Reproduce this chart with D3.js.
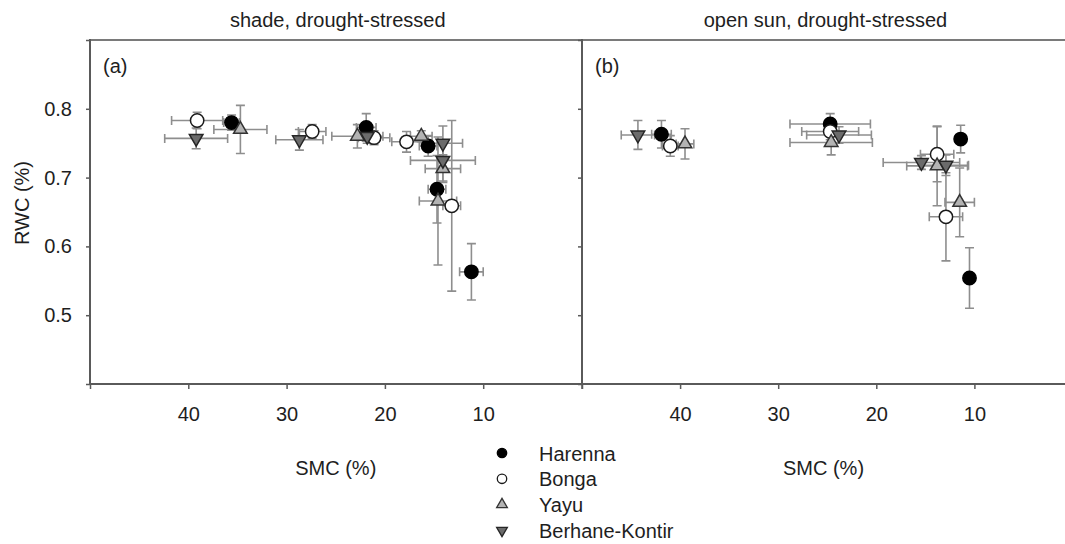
<!DOCTYPE html>
<html>
<head>
<meta charset="utf-8">
<script src="https://cdn.jsdelivr.net/npm/d3@7"></script>
<style>
  html, body { margin: 0; padding: 0; background: #fff; }
  svg { display: block; }
  text { font-family: "Liberation Sans", Arial, sans-serif; fill: #1e1e1e; }
</style>
</head>
<body>
<svg id="chart" width="1065" height="544"></svg>
<script>
// Sites (legend order) and SMC axis ticks
const sites = ["Harenna", "Bonga", "Yayu", "Berhane-Kontir"];
const smcTicks = [50, 40, 30, 20, 10, 0];
const smcTickLabels = ["", "40", "30", "20", "10", ""];
const rwcTicks = [0.4, 0.5, 0.6, 0.7, 0.8, 0.9];
const rwcTickLabels = ["", "0.5", "0.6", "0.7", "0.8", ""];

// Each row: [SMC mean, SMC error, RWC mean, RWC error]
// Shade, drought-stressed
const shadeHarenna = [[35.6, 0.8, 0.780, 0.011], [21.9, 1.0, 0.773, 0.020], [15.6, 0.9, 0.746, 0.015], [14.7, 0.9, 0.683, 0.049], [11.2, 1.2, 0.563, 0.041]];
const shadeBonga   = [[39.1, 2.6, 0.783, 0.012], [27.4, 1.4, 0.767, 0.010], [21.1, 1.6, 0.758, 0.010], [17.8, 1.5, 0.752, 0.015], [13.2, 0.9, 0.659, 0.124]];
const shadeYayu    = [[34.7, 2.7, 0.770, 0.035], [22.8, 2.6, 0.760, 0.017], [16.3, 1.1, 0.760, 0.008], [14.1, 1.8, 0.713, 0.020], [14.6, 1.9, 0.666, 0.093]];
const shadeBerhane = [[39.2, 3.2, 0.757, 0.015], [28.7, 2.4, 0.755, 0.015], [21.8, 1.0, 0.760, 0.010], [14.1, 2.0, 0.750, 0.025], [14.1, 3.3, 0.725, 0.030]];
// Open sun, drought-stressed
const sunHarenna = [[41.9, 1.0, 0.763, 0.020], [24.7, 4.1, 0.778, 0.015], [11.4, 0.5, 0.756, 0.020], [10.5, 0.3, 0.554, 0.044]];
const sunBonga   = [[41.0, 0.8, 0.746, 0.015], [24.7, 2.9, 0.767, 0.012], [13.8, 1.7, 0.734, 0.040], [12.9, 1.7, 0.643, 0.064]];
const sunYayu    = [[39.5, 0.9, 0.749, 0.022], [24.6, 4.2, 0.751, 0.018], [13.8, 3.1, 0.717, 0.058], [11.5, 1.5, 0.664, 0.050]];
const sunBerhane = [[44.3, 1.7, 0.762, 0.021], [23.8, 3.3, 0.762, 0.012], [15.4, 3.9, 0.722, 0.010], [12.9, 2.3, 0.718, 0.015]];

const panels = [
  { title: "shade, drought-stressed", tag: "(a)", x0: 90, x1: 581.5,
    data: [shadeHarenna, shadeBonga, shadeYayu, shadeBerhane] },
  { title: "open sun, drought-stressed", tag: "(b)", x0: 582, x1: 1072.5,
    data: [sunHarenna, sunBonga, sunYayu, sunBerhane] }
];

// marker styles per site
const markerStyle = [
  { type: d3.symbolCircle,   size: 140, fill: "#000000", stroke: "#000000", rot: 0 },
  { type: d3.symbolCircle,   size: 140, fill: "#ffffff", stroke: "#1a1a1a", rot: 0 },
  { type: d3.symbolTriangle, size: 80,  fill: "#b3b3b3", stroke: "#333333", rot: 0 },
  { type: d3.symbolTriangle, size: 80,  fill: "#6b6b6b", stroke: "#262626", rot: 180 }
];

const svg = d3.select("#chart");
const yTop = 40, yBottom = 384;
const W = 1065;
const axisColor = "#5a5a5a";
const errColor = "#8e8e8e";
const cap = 4.5;

const y = d3.scaleLinear().domain([0.4, 0.9]).range([yBottom, yTop]);

// top frame line across both panels
svg.append("line").attr("x1", 89).attr("x2", W).attr("y1", yTop).attr("y2", yTop)
  .attr("stroke", "#7a7a7a").attr("stroke-width", 2);

panels.forEach((p, pi) => {
  const x = d3.scaleLinear().domain([50, 0]).range([p.x0, p.x1]);
  const g = svg.append("g");

  // bottom axis
  const xAxis = d3.axisBottom(x).tickValues(smcTicks)
    .tickFormat((d, i) => smcTickLabels[i]).tickSize(5).tickSizeOuter(0).tickPadding(17.5);
  const gx = g.append("g").attr("transform", `translate(0,${yBottom})`).call(xAxis);
  gx.select(".domain").attr("stroke", axisColor).attr("stroke-width", 2)
    .attr("d", `M${p.x0 - 1},0H${Math.min(p.x1, W)}`);
  gx.selectAll(".tick line").attr("stroke", axisColor).attr("stroke-width", 1.5);
  gx.selectAll(".tick text").style("font-size", "20px").attr("fill", "#1e1e1e")
    .style("font-family", '"Liberation Sans", Arial, sans-serif');

  // left axis
  const yAxis = d3.axisLeft(y).tickValues(rwcTicks)
    .tickFormat((d, i) => pi === 0 ? rwcTickLabels[i] : "").tickSize(4).tickSizeOuter(0).tickPadding(14);
  const gy = g.append("g").attr("transform", `translate(${p.x0},0)`).call(yAxis);
  gy.select(".domain").attr("stroke", axisColor).attr("stroke-width", 2)
    .attr("d", `M0,${yTop - 1}V${yBottom + 1}`);
  gy.selectAll(".tick line").attr("stroke", axisColor).attr("stroke-width", 1.5);
  gy.selectAll(".tick text").style("font-size", "20px").attr("fill", "#1e1e1e")
    .style("font-family", '"Liberation Sans", Arial, sans-serif');

  const cx = (p.x0 + Math.min(p.x1, W)) / 2;
  // panel title
  g.append("text").attr("x", cx + 2).attr("y", 27).attr("text-anchor", "middle")
    .style("font-size", "20px").text(p.title);
  // panel tag
  g.append("text").attr("x", p.x0 + 13).attr("y", 73).style("font-size", "20px").text(p.tag);
  // x-axis title
  g.append("text").attr("x", cx).attr("y", 475).attr("text-anchor", "middle")
    .style("font-size", "20px").text("SMC (%)");

  // error bars first
  const eg = g.append("g").attr("stroke", errColor).attr("stroke-width", 1.6).attr("fill", "none");
  p.data.forEach(rows => {
    rows.forEach(([sx, sxe, ry, rye]) => {
      const px = x(sx), py = y(ry);
      const xl = x(sx + sxe), xr = x(sx - sxe);
      const yt = y(ry + rye), yb = y(ry - rye);
      eg.append("path").attr("d",
        `M${xl},${py}H${xr}M${xl},${py - cap}V${py + cap}M${xr},${py - cap}V${py + cap}` +
        `M${px},${yt}V${yb}M${px - cap},${yt}H${px + cap}M${px - cap},${yb}H${px + cap}`);
    });
  });

  // markers
  p.data.forEach((rows, si) => {
    const st = markerStyle[si];
    const sym = d3.symbol().type(st.type).size(st.size);
    g.append("g").selectAll("path").data(rows).join("path")
      .attr("d", sym)
      .attr("transform", d => `translate(${x(d[0])},${y(d[2])}) rotate(${st.rot})`)
      .attr("fill", st.fill).attr("stroke", st.stroke).attr("stroke-width", 1.5);
  });
});

// y-axis title
svg.append("text").attr("transform", "translate(29,203) rotate(-90)")
  .attr("text-anchor", "middle").style("font-size", "20px").text("RWC (%)");

// legend
const legend = svg.append("g");
sites.forEach((name, i) => {
  const st = markerStyle[i];
  const ly = 453 + i * 25.8;
  const small = st.type === d3.symbolCircle ? 70 : 50;
  legend.append("path").attr("d", d3.symbol().type(st.type).size(small))
    .attr("transform", `translate(502,${ly}) rotate(${st.rot})`)
    .attr("fill", st.fill).attr("stroke", st.stroke).attr("stroke-width", 1.3);
  legend.append("text").attr("x", 539).attr("y", ly + 7.5).style("font-size", "20px").text(name);
});
</script>
</body>
</html>
